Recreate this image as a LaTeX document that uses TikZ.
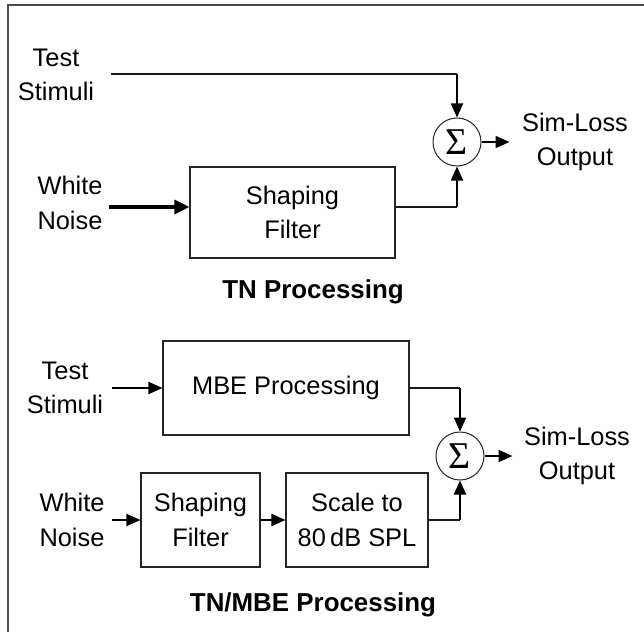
\documentclass[tikz,border=0pt]{standalone}
\usepackage{fontspec}
\setmainfont{Liberation Sans}
\newfontfamily\sigmafont{Liberation Serif}
\usetikzlibrary{arrows.meta}
\tikzset{
  lbl/.style={align=center,font=\fontsize{25.5}{34.5}\selectfont,inner sep=0pt},
  blk/.style={draw=black!85,line width=1.1bp,inner sep=0pt,align=center,font=\fontsize{25.5}{34.5}\selectfont},
  sumnode/.style={draw=black!85,circle,line width=1bp,minimum size=48bp,inner sep=0pt,font=\sigmafont\fontsize{38}{38}\selectfont},
  title/.style={font=\bfseries\fontsize{26}{30}\selectfont,inner sep=0pt},
  wire/.style={line width=1.4bp,draw=black!90},
  sig/.style={line width=1.8bp,-{Triangle[length=14bp,width=12bp]}},
  thick sig/.style={line width=3.2bp,-{Triangle[length=15bp,width=14bp]}},
}
\begin{document}
\begin{tikzpicture}[x=1bp,y=-1bp]
\useasboundingbox (0,0) rectangle (644,632);
\fill[white] (0,0) rectangle (644,632);
\draw[black!70,line width=1.5bp] (8,632) -- (8,5) -- (644,5);

% ---- top: TN processing
\node[lbl] (ts1) at (56,75) {Test\\Stimuli};
\node[lbl] (wn1) at (70,203) {White\\Noise};
\node[blk,minimum width=205bp,minimum height=91bp] (sf1) at (292.5,212.5) {Shaping\\Filter};
\node[sumnode] (s1) at (457,142) {Σ};
\node[lbl] (o1) at (575,142) {Sim-Loss\\Output};
\node[title] (t1) at (313,292) {TN Processing};
\coordinate (a1) at (111,74);
\coordinate (w1) at (109,207);

\draw[wire] (a1) -- (s1.north |- a1);
\draw[sig] (s1.north |- a1) -- (s1.north);
\draw[thick sig] (w1) -- (sf1.west |- w1);
\draw[wire] (sf1.east |- w1) -- (s1.south |- w1);
\draw[sig] (s1.south |- w1) -- (s1.south);
\draw[sig] (s1.east) -- ++(28,0);

% ---- bottom: TN/MBE processing
\node[lbl] (ts2) at (65,388) {Test\\Stimuli};
\node[lbl] (wn2) at (72,520) {White\\Noise};
\node[blk,minimum width=246bp,minimum height=94bp] (mbe) at (286,388) {MBE Processing};
\node[blk,minimum width=119bp,minimum height=94bp] (sf2) at (200.5,520) {Shaping\\Filter};
\node[blk,minimum width=142bp,minimum height=94bp] (sc) at (357,520) {Scale to\\80\,dB SPL};
\node[sumnode] (s2) at (460,456) {Σ};
\node[lbl] (o2) at (577,456) {Sim-Loss\\Output};
\node[title] (t2) at (313,605) {TN/MBE Processing};
\coordinate (a2) at (112,388);
\coordinate (w2) at (112,520);

\draw[sig] (a2) -- (mbe.west |- a2);
\draw[wire] (mbe.east |- a2) -- (s2.north |- a2);
\draw[sig] (s2.north |- a2) -- (s2.north);
\draw[sig] (w2) -- (sf2.west);
\draw[sig] (sf2.east) -- (sc.west);
\draw[wire] (sc.east) -- (s2.south |- sc.east);
\draw[sig] (s2.south |- sc.east) -- (s2.south);
\draw[sig] (s2.east) -- ++(28,0);
\end{tikzpicture}
\end{document}
